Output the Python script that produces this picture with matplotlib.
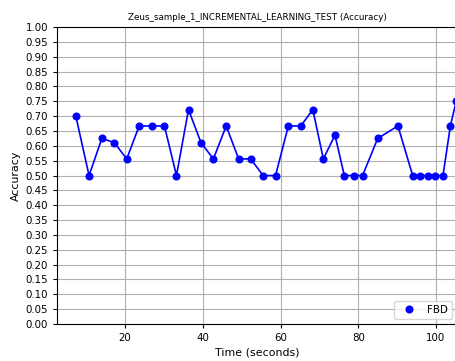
import matplotlib
matplotlib.use("Agg")
import matplotlib.pyplot as plt
import numpy as np

time_s = [7.3, 10.7, 14.0, 17.2, 20.4, 23.6, 26.9, 30.1, 33.2, 36.3, 39.5,
          42.7, 46.0, 49.2, 52.3, 55.5, 58.7, 62.0, 65.2, 68.3, 71.0, 74.0,
          76.4, 78.8, 81.1, 85.0, 90.2, 94.0, 95.9, 97.9, 99.8, 101.8, 103.7,
          105.2]
accuracy = [0.700, 0.500, 0.625, 0.611, 0.556, 0.667, 0.667, 0.667, 0.500,
            0.722, 0.611, 0.556, 0.667, 0.556, 0.556, 0.500, 0.500, 0.667,
            0.667, 0.722, 0.556, 0.636, 0.500, 0.500, 0.500, 0.625, 0.667,
            0.500, 0.500, 0.500, 0.500, 0.500, 0.667, 0.750]
y_ticks = np.round(np.arange(0, 1.0001, 0.05), 2)

fig = plt.figure(figsize=(4.56, 3.61), dpi=100)
ax = fig.add_axes([0.125, 0.1025, 0.878, 0.8225])

ax.plot(time_s, accuracy, color="blue", linewidth=1.2)
ax.plot(time_s, accuracy, "o", color="blue", markersize=4.8, label="FBD")

ax.set_xlim(2.45, 105.5)
ax.set_ylim(0, 1.0)
ax.set_yticks(y_ticks)
ax.set_yticklabels([f"{v:.2f}" for v in y_ticks])
ax.set_xticks([20, 40, 60, 80, 100])
ax.tick_params(labelsize=7.4, length=3)
ax.grid(True, color="#b0b0b0", linewidth=0.8)
ax.set_axisbelow(True)

ax.set_xlabel("Time (seconds)", fontsize=7.9, labelpad=3)
ax.set_ylabel("Accuracy", fontsize=7.9, labelpad=3)
ax.set_title("Zeus_sample_1_INCREMENTAL_LEARNING_TEST (Accuracy)", fontsize=6.3, pad=5)
ax.legend(loc="lower right", fontsize=7.4)

fig.savefig("out.png", dpi=100)
